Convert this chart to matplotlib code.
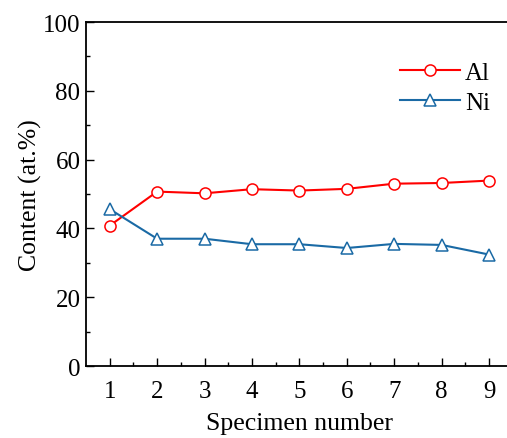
import numpy as np
import matplotlib.pyplot as plt

plt.rcParams['font.family'] = ['Liberation Serif', 'DejaVu Serif']

specimen = [1, 2, 3, 4, 5, 6, 7, 8, 9]
al = [40.8, 50.7, 50.2, 51.4, 51.0, 51.5, 53.0, 53.2, 53.9]
ni = [45.6, 37.0, 37.0, 35.4, 35.4, 34.3, 35.5, 35.2, 32.4]

fig = plt.figure(figsize=(5.07, 4.39), dpi=100)
ax = fig.add_axes([86/507, 0.164, 426.7/507, 0.7836])

ax.plot(specimen, al, '-o', color='#ff0000', mfc='white', mec='#ff0000',
        ms=8, mew=1.1, lw=1.5, label='Al')
ax.plot(specimen, ni, '-^', color='#1a6aa5', mfc='white', mec='#1a6aa5',
        ms=9, mew=1.1, lw=1.5, label='Ni')

ax.set_xlim(0.5, 9.5)
ax.set_ylim(0, 100)
ax.set_xticks(specimen)
ax.set_yticks(np.arange(0, 101, 20))
ax.set_xticks(np.arange(1.5, 9, 1), minor=True)
ax.set_yticks(np.arange(10, 100, 20), minor=True)
ax.tick_params(which='both', direction='in', labelsize=18, width=1)
ax.tick_params(which='major', length=6)
ax.tick_params(which='minor', length=3)
ax.tick_params(axis='x', pad=10)
ax.tick_params(axis='y', pad=4)
for s in ax.spines.values():
    s.set_linewidth(1.3)

ax.set_xlabel('Specimen number', fontsize=18.5, labelpad=7)
ax.set_ylabel('Content (at.%)', fontsize=18.5, labelpad=1)
ax.legend(loc='upper right', bbox_to_anchor=(1.0, 0.95), frameon=False,
          fontsize=18, handlelength=2.4, handletextpad=0.2, labelspacing=0.3)

fig.savefig('out.png', dpi=100)
